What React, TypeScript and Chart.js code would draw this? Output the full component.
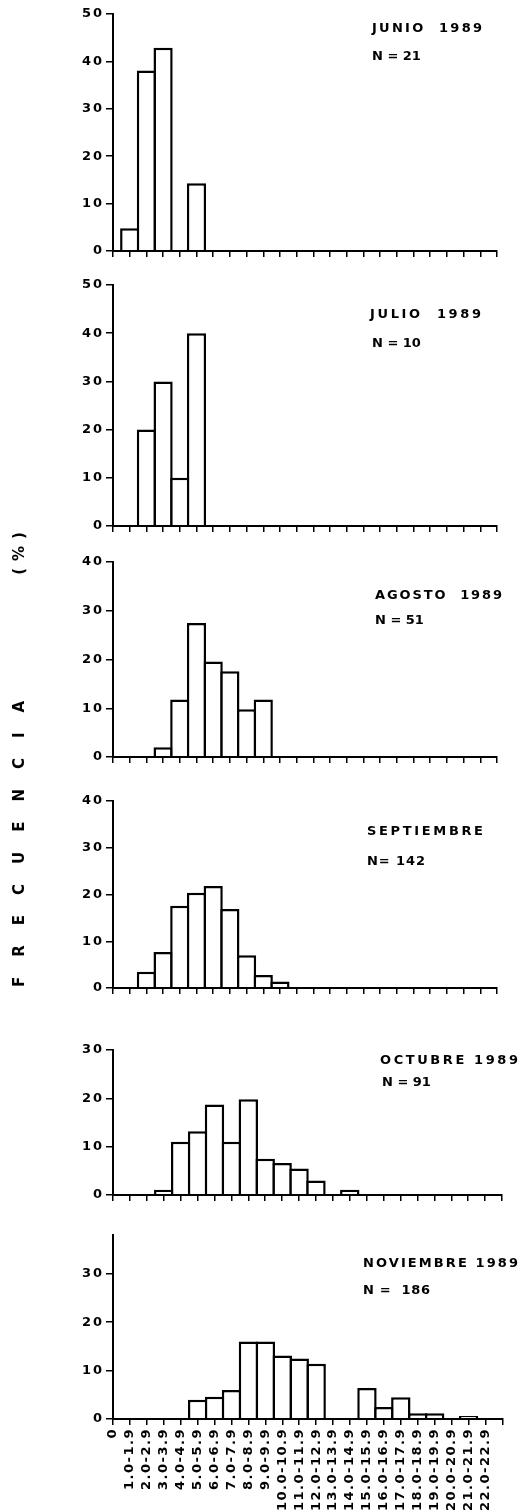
import React, { useEffect, useRef } from "react";
import { Chart, registerables } from "chart.js";

Chart.register(...registerables);

// ---- data ----
const tickLabels = [
  "0", "1.0-1.9", "2.0-2.9", "3.0-3.9", "4.0-4.9", "5.0-5.9", "6.0-6.9", "7.0-7.9",
  "8.0-8.9", "9.0-9.9", "10.0-10.9", "11.0-11.9", "12.0-12.9", "13.0-13.9", "14.0-14.9",
  "15.0-15.9", "16.0-16.9", "17.0-17.9", "18.0-18.9", "19.0-19.9", "20.0-20.9",
  "21.0-21.9", "22.0-22.9", "",
];

const junio = [0, 4.8, 38.1, 42.9, 0, 14.3, 0, 0, 0, 0, 0, 0, 0, 0, 0, 0, 0, 0, 0, 0, 0, 0, 0];
const julio = [0, 0, 20, 30, 10, 40, 0, 0, 0, 0, 0, 0, 0, 0, 0, 0, 0, 0, 0, 0, 0, 0, 0];
const agosto = [0, 0, 0, 2.0, 11.8, 27.5, 19.6, 17.6, 9.8, 11.8, 0, 0, 0, 0, 0, 0, 0, 0, 0, 0, 0, 0, 0];
const septiembre = [0, 0, 3.5, 7.7, 17.6, 20.4, 21.8, 16.9, 7.0, 2.8, 1.4, 0, 0, 0, 0, 0, 0, 0, 0, 0, 0, 0, 0];
const octubre = [0, 0, 0, 1.1, 11.0, 13.2, 18.7, 11.0, 19.8, 7.5, 6.6, 5.5, 3.0, 0, 1.1, 0, 0, 0, 0, 0, 0, 0, 0];
const noviembre = [0, 0, 0, 0, 0, 4.0, 4.6, 6.0, 16.0, 16.0, 13.1, 12.5, 11.4, 0, 0, 6.4, 2.5, 4.5, 1.2, 1.2, 0, 0.6, 0];

const titles = ["JUNIO  1989", "JULIO  1989", "AGOSTO  1989", "SEPTIEMBRE", "OCTUBRE 1989", "NOVIEMBRE 1989"];
const nLabels = ["N = 21", "N = 10", "N = 51", "N= 142", "N = 91", "N =  186"];
const yMaxes = [50, 50, 40, 40, 30, 38];

// ---- layout ----
const W = 521;
const H = 1511;
const AXIS_X = 113;
const PAD_TOP = 10;
const FONT = "'DejaVu Sans', 'Liberation Sans', sans-serif";
const TITLE_FONT = `bold 13px ${FONT}`;

const layouts = [
  { top: 14, zero: 251, right: 497, tx: 372, tw: 110, ty: 21, nx: 372, nw: 45, ny: 49 },
  { top: 285, zero: 526, right: 497, tx: 370, tw: 111, ty: 307, nx: 372, nw: 44, ny: 336 },
  { top: 562, zero: 757, right: 497, tx: 375, tw: 127, ty: 588, nx: 375, nw: 45, ny: 613 },
  { top: 801, zero: 988, right: 497, tx: 367, tw: 116, ty: 824, nx: 367, nw: 58, ny: 854 },
  { top: 1050, zero: 1195, right: 502, tx: 380, tw: 138, ty: 1053, nx: 382, nw: 45, ny: 1075 },
  { top: 1235, zero: 1419, right: 507, tx: 363, tw: 155, ty: 1256, nx: 363, nw: 67, ny: 1283 },
];

const seriesList = [junio, julio, agosto, septiembre, octubre, noviembre];

const BAR_BW = 2.5;

let measureCtx: CanvasRenderingContext2D | null = null;
function spacingFor(text: string, target: number): number {
  if (!measureCtx) measureCtx = document.createElement("canvas").getContext("2d");
  if (!measureCtx) return 1.5;
  measureCtx.font = TITLE_FONT;
  const w = measureCtx.measureText(text).width;
  return Math.max(0, (target - w) / Math.max(1, text.length - 1));
}

const spacingPlugin = {
  id: "letterSpacingSwitch",
  beforeDraw(chart: any) {
    (chart.ctx as any).letterSpacing = "2px";
  },
  afterDatasetsDraw(chart: any) {
    (chart.ctx as any).letterSpacing = "1.5px";
  },
  afterDraw(chart: any) {
    (chart.ctx as any).letterSpacing = "0px";
  },
};

function Panel({ idx }: { idx: number }) {
  const ref = useRef<HTMLCanvasElement | null>(null);
  const lay = layouts[idx];
  const isLast = idx === layouts.length - 1;
  const bottomH = isLast ? H - lay.zero : 12;
  const canvasTop = lay.top - PAD_TOP;
  const canvasH = lay.zero - lay.top + PAD_TOP + bottomH;

  useEffect(() => {
    if (!ref.current) return;
    const spacing = (lay.right - AXIS_X) / (tickLabels.length - 1);
    const chart = new Chart(ref.current, {
      type: "bar",
      data: {
        labels: tickLabels,
        datasets: [
          {
            data: seriesList[idx].map((v) => (v === 0 ? null : v)),
            backgroundColor: "#ffffff",
            borderColor: "#000000",
            borderWidth: BAR_BW,
            borderSkipped: "start",
            barPercentage: 1,
            categoryPercentage: (spacing + BAR_BW) / spacing,
          },
        ],
      },
      options: {
        responsive: false,
        animation: false,
        devicePixelRatio: 1,
        events: [],
        layout: { padding: { top: PAD_TOP, right: W - lay.right, left: 0, bottom: 0 } },
        plugins: {
          legend: { display: false },
          tooltip: { enabled: false },
          title: { display: false },
        },
        scales: {
          x: {
            type: "category",
            offset: false,
            grid: {
              offset: false,
              drawOnChartArea: false,
              drawTicks: true,
              tickLength: 6,
              color: "#000",
              lineWidth: 1.5,
            },
            border: { display: true, color: "#000", width: 2, z: 1 },
            ticks: {
              display: isLast,
              autoSkip: false,
              minRotation: 90,
              maxRotation: 90,
              padding: 3,
              color: "#000",
              z: 1,
              font: { family: FONT, size: 13, weight: "bold" },
            },
            afterFit: (s: any) => {
              s.height = bottomH;
            },
          },
          y: {
            min: 0,
            max: yMaxes[idx],
            grid: {
              drawOnChartArea: false,
              drawTicks: true,
              tickLength: 7,
              color: "#000",
              lineWidth: 1.5,
            },
            border: { display: true, color: "#000", width: 2, z: 1 },
            ticks: {
              stepSize: 10,
              padding: 2,
              color: "#000",
              font: { family: FONT, size: 13, weight: "bold" },
            },
            afterBuildTicks: (s: any) => {
              s.ticks = s.ticks.filter((t: any) => t.value % 10 === 0);
            },
            afterFit: (s: any) => {
              s.width = AXIS_X;
            },
          },
        },
      },
      plugins: [spacingPlugin],
    } as any);
    return () => chart.destroy();
  }, [idx]);

  const titleLs = spacingFor(titles[idx], lay.tw);
  const nLs = spacingFor(nLabels[idx], lay.nw);

  return (
    <>
      <canvas
        ref={ref}
        width={W}
        height={canvasH}
        style={{ position: "absolute", left: 0, top: canvasTop, width: W, height: canvasH }}
      />
      <div
        style={{
          position: "absolute",
          left: lay.tx,
          top: lay.ty,
          font: TITLE_FONT,
          letterSpacing: `${titleLs}px`,
          whiteSpace: "pre",
          lineHeight: "13px",
          color: "#000",
        }}
      >
        {titles[idx]}
      </div>
      <div
        style={{
          position: "absolute",
          left: lay.nx,
          top: lay.ny,
          font: TITLE_FONT,
          letterSpacing: `${nLs}px`,
          whiteSpace: "pre",
          lineHeight: "13px",
          color: "#000",
        }}
      >
        {nLabels[idx]}
      </div>
    </>
  );
}

export default function App() {
  return (
    <div
      style={{
        position: "absolute",
        left: 0,
        top: 0,
        width: W,
        height: H,
        background: "#fff",
        overflow: "hidden",
      }}
    >
      {layouts.map((_, i) => (
        <Panel key={i} idx={i} />
      ))}
      <div
        style={{
          position: "absolute",
          left: 10,
          top: 987,
          height: 20,
          lineHeight: "20px",
          transformOrigin: "left top",
          transform: "rotate(-90deg)",
          whiteSpace: "nowrap",
          font: `bold 15px ${FONT}`,
          color: "#000",
        }}
      >
        <span style={{ letterSpacing: "20px" }}>FRECUENCIA</span>
        <span style={{ display: "inline-block", width: 106 }} />
        <span style={{ letterSpacing: "7px" }}>(%)</span>
      </div>
    </div>
  );
}
